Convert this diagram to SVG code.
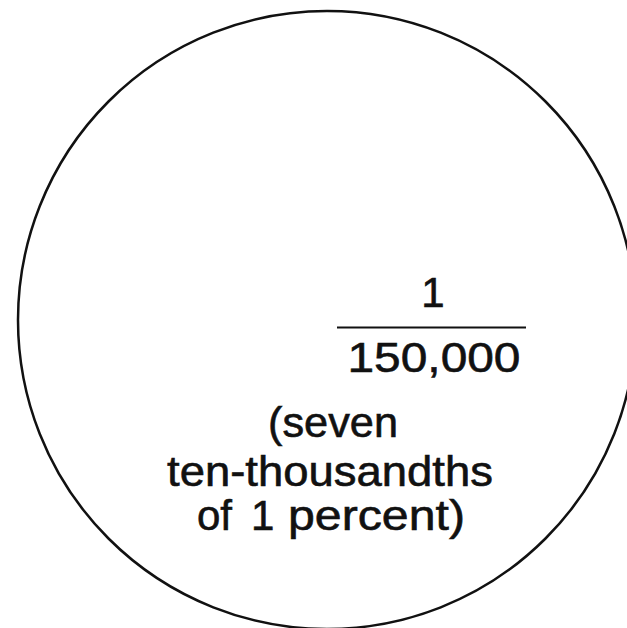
<svg xmlns="http://www.w3.org/2000/svg" width="627" height="628" viewBox="0 0 627 628">
  <style>
    .lbl { font-family: "Liberation Sans", Arial, Helvetica, sans-serif; font-size: 42px; fill: #111; stroke: #111; stroke-width: 0.6; text-anchor: middle; }
    .st { text-anchor: start; }
    .ring { fill: none; stroke: #111; stroke-width: 2.5; }
  </style>
  <rect width="627" height="628" fill="#fff"/>
  <g id="circle">
    <circle class="ring" cx="327" cy="320" r="309"/>
  </g>
  <g id="fraction">
    <text class="lbl" x="433" y="307">1</text>
    <line x1="337" y1="327.5" x2="526" y2="327.5" stroke="#111" stroke-width="2.2"/>
    <text class="lbl" x="434" y="372" textLength="173" lengthAdjust="spacingAndGlyphs">150,000</text>
  </g>
  <g id="caption">
    <text class="lbl" x="333" y="437" textLength="130" lengthAdjust="spacingAndGlyphs">(seven</text>
    <text class="lbl" x="330" y="486" textLength="326" lengthAdjust="spacingAndGlyphs">ten-thousandths</text>
    <text class="lbl st" y="530"><tspan x="197">of</tspan><tspan x="251">1</tspan><tspan x="288" textLength="177" lengthAdjust="spacingAndGlyphs">percent)</tspan></text>
  </g>
</svg>
